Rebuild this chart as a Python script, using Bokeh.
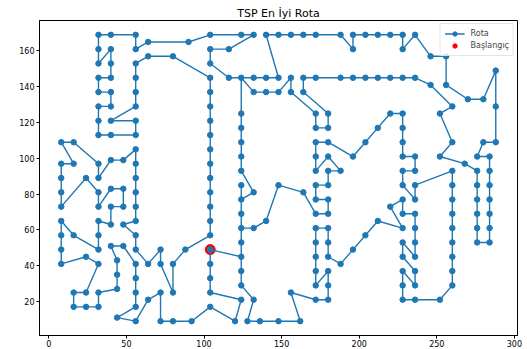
from bokeh.plotting import figure
from bokeh.models import Legend, LegendItem, FixedTicker, Range1d
from bokeh.embed import file_html
from bokeh.resources import INLINE

# Tour order (closed: ends where it starts)
route_x = [104, 104, 104, 104, 124, 120, 104, 92, 80, 72, 72, 64, 56, 44, 56, 56, 56, 56,
           48, 40, 44, 44, 44, 32, 32, 24, 16, 16, 24, 32, 24, 8, 8, 8, 8, 16, 32, 32, 32,
           40, 40, 48, 48, 40, 32, 32, 24, 8, 8, 8, 8, 16, 8, 16, 32, 32, 40, 48, 56, 56, 56,
           56, 56, 56, 48, 56, 56, 64, 72, 72, 80, 80, 88, 104, 104, 104, 104, 104, 104, 104,
           104, 104, 104, 104, 104, 80, 64, 56, 56, 56, 56, 40, 56, 56, 40, 32, 32, 32, 40, 40,
           32, 32, 40, 40, 40, 32, 32, 32, 40, 56, 56, 64, 90, 104, 124, 132, 116, 104, 104,
           116, 132, 140, 148, 140, 148, 156, 164, 172, 188, 196, 196, 204, 212, 220, 228, 228,
           236, 246, 256, 256, 270, 280, 288, 288, 288, 280, 276, 284, 284, 284, 284, 284, 284,
           284, 276, 276, 276, 276, 276, 276, 268, 252, 260, 252, 260, 246, 236, 228, 220, 212,
           204, 196, 188, 172, 164, 164, 180, 180, 172, 172, 156, 156, 148, 140, 132, 124, 124,
           124, 124, 124, 124, 132, 124, 124, 124, 124, 124, 124, 132, 128, 136, 148, 162, 156,
           172, 180, 180, 180, 172, 172, 172, 172, 172, 180, 180, 180, 188, 196, 204, 212, 228,
           220, 228, 228, 236, 236, 236, 236, 228, 228, 236, 236, 228, 228, 228, 236, 252, 260,
           260, 260, 260, 260, 260, 260, 260, 260, 236, 236, 228, 228, 236, 236, 228, 228, 228,
           228, 220, 212, 204, 196, 180, 172, 172, 172, 180, 188, 180, 180, 172, 172, 180, 180,
           172, 164, 148, 140, 132, 124, 124, 104]
route_y = [49, 41, 33, 25, 21, 9, 17, 9, 9, 9, 25, 21, 9, 11, 17, 25, 33, 41,
           51, 51, 43, 35, 27, 25, 17, 17, 17, 25, 25, 41, 45, 41, 49, 57, 65, 57, 49, 57, 65,
           63, 73, 73, 83, 83, 73, 81, 89, 73, 81, 89, 97, 97, 109, 109, 97, 89, 99, 99, 105, 97, 89,
           81, 73, 65, 63, 57, 49, 41, 49, 41, 25, 41, 49, 57, 65, 73, 81, 89, 97, 105,
           113, 121, 129, 137, 145, 157, 157, 153, 145, 137, 129, 121, 121, 113, 113, 113, 121, 129, 129, 137,
           137, 145, 145, 153, 161, 153, 161, 169, 169, 169, 161, 165, 165, 169, 169, 169, 161, 161, 153,
           145, 145, 145, 145, 169, 169, 169, 169, 169, 169, 161, 169, 169, 169, 169, 169, 161,
           169, 157, 157, 141, 133, 133, 149, 129, 109, 109, 101, 101, 93, 85, 77, 69, 61,
           53, 53, 61, 69, 77, 85, 93, 97, 101, 109, 125, 129, 141, 145, 145, 145, 145,
           145, 145, 145, 145, 145, 137, 125, 117, 117, 125, 137, 145, 137, 137, 137, 145, 125,
           117, 109, 101, 93, 81, 77, 85, 69, 53, 37, 29, 21, 9, 9, 9, 9, 25,
           21, 21, 29, 37, 29, 37, 45, 53, 61, 61, 53, 45, 41, 49, 57, 65, 61,
           73, 77, 69, 69, 61, 53, 45, 53, 45, 37, 29, 37, 29, 21, 21, 21, 29,
           37, 45, 53, 61, 69, 77, 85, 93, 85, 77, 85, 93, 93, 101, 101, 109, 117,
           125, 125, 117, 109, 101, 109, 109, 101, 93, 101, 93, 93, 85, 85, 77, 77, 69,
           69, 81, 85, 65, 61, 61, 45, 49]

start_x = [104]
start_y = [49]

x_ticks = [0, 50, 100, 150, 200, 250, 300]
y_ticks = [20, 40, 60, 80, 100, 120, 140, 160]

FONT = "DejaVu Sans"
BLUE = "#1f77b4"

p = figure(width=527, height=349, output_backend="svg", toolbar_location=None,
           x_range=Range1d(-6, 302), y_range=Range1d(1, 177),
           min_border_left=39, min_border_right=10, min_border_top=20, min_border_bottom=12,
           title="TSP En İyi Rota", background_fill_color="white", border_fill_color="white")

p.title.align = "center"
p.title.text_font = FONT
p.title.text_font_size = "11px"
p.title.text_font_style = "normal"
p.title.text_color = "black"
p.title.offset = 0
p.title.standoff = 2

p.xgrid.visible = False
p.ygrid.visible = False
p.outline_line_color = "black"
p.outline_line_width = 1

for ax, ticks in ((p.xaxis, x_ticks), (p.yaxis, y_ticks)):
    ax.ticker = FixedTicker(ticks=ticks)
    ax.minor_tick_line_color = None
    ax.major_tick_in = 0
    ax.major_tick_out = 3
    ax.major_tick_line_color = "black"
    ax.axis_line_color = "black"
    ax.major_label_text_font = FONT
    ax.major_label_text_font_size = "8px"
    ax.major_label_text_color = "black"
    ax.major_label_standoff = 2
p.xaxis.major_label_standoff = 1

r_start = p.scatter(start_x, start_y, size=10, color="red")
r_line = p.line(route_x, route_y, line_width=1.4, color=BLUE)
r_pts = p.scatter(route_x, route_y, size=5.5, color=BLUE)

legend = Legend(items=[LegendItem(label="Rota", renderers=[r_line, r_pts]),
                       LegendItem(label="Başlangıç", renderers=[r_start])],
                location="top_right")
legend.label_text_font = FONT
legend.label_text_font_size = "8px"
legend.label_height = 11
legend.glyph_width = 20
legend.glyph_height = 11
legend.spacing = 1
legend.padding = 4
legend.margin = 3
legend.label_standoff = 6
legend.border_line_color = "#cccccc"
legend.background_fill_alpha = 0.85
p.add_layout(legend)

open("out.html", "w").write(file_html(p, INLINE))
